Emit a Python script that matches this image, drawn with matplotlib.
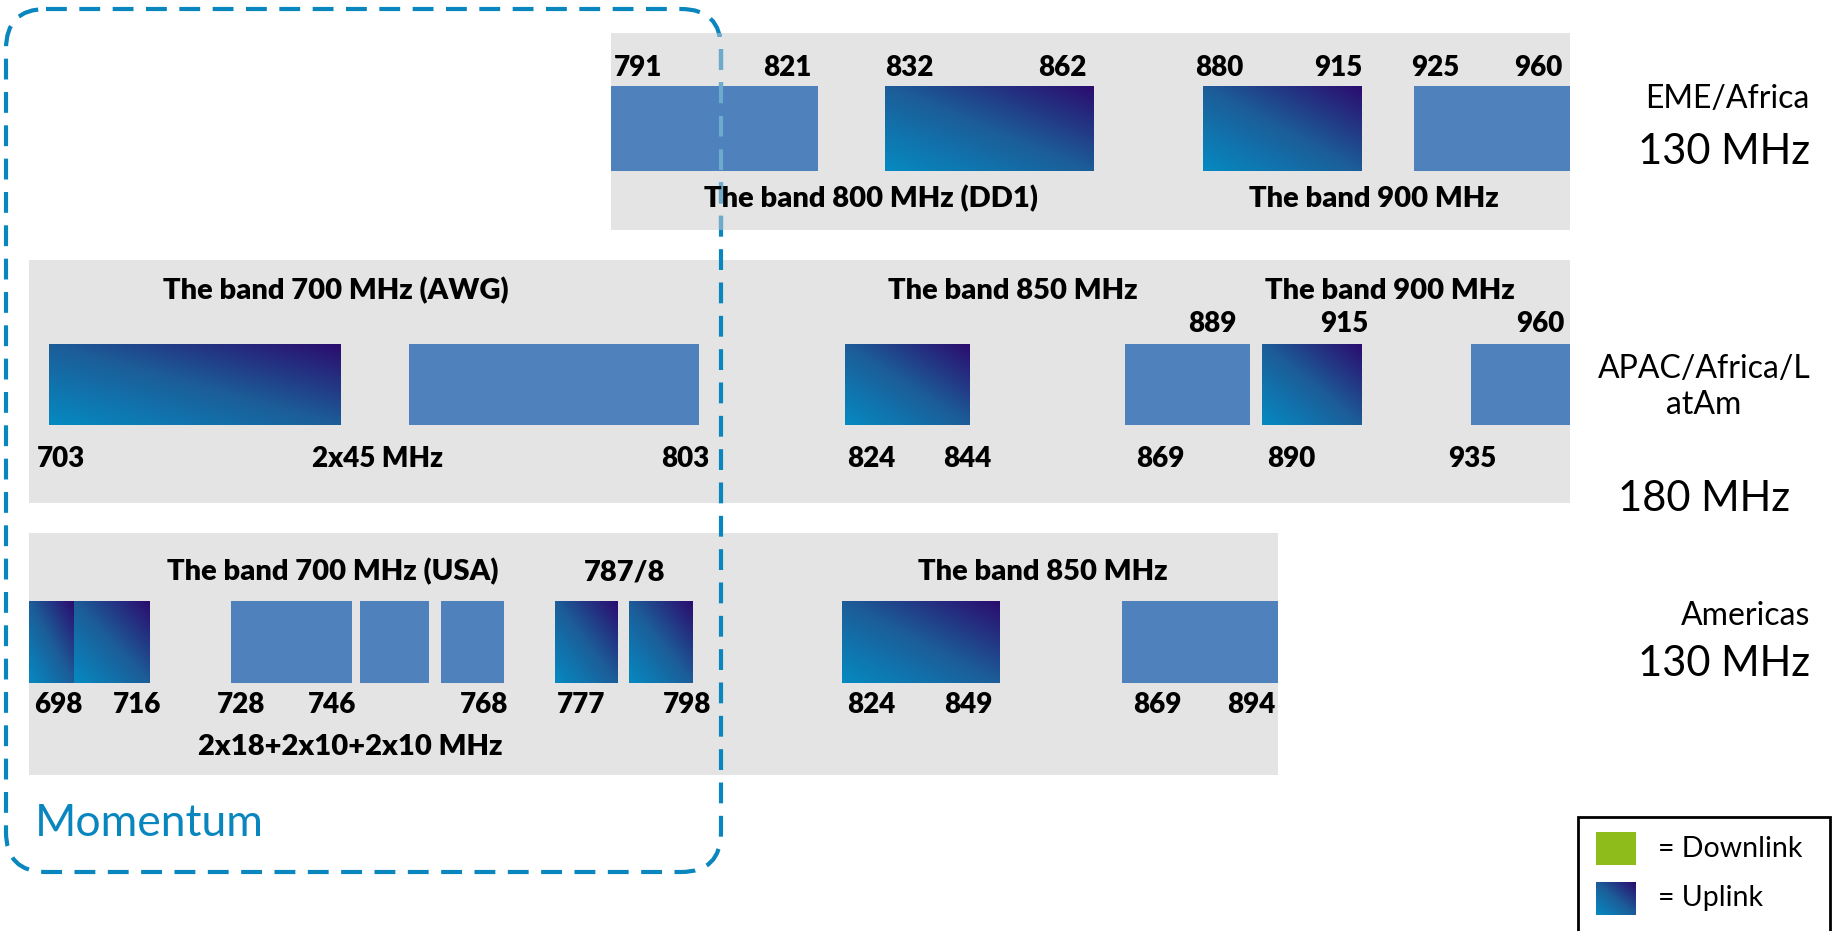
import numpy as np
import matplotlib.pyplot as plt
from matplotlib.colors import LinearSegmentedColormap
from matplotlib.patches import Rectangle, FancyBboxPatch

# Canvas is laid out in pixel units (x right, y down).
W, H = 1833, 931

GRAY = "#e4e4e4"
FLAT = "#4f81bd"
GREEN = "#8ebc1a"
TEAL = "#0a86be"
up_cmap = LinearSegmentedColormap.from_list("uplink", ["#0689c1", "#1c5d98", "#2b0d6f"])

# ---- EME/Africa row ----
eme_box = (611, 33, 1570, 230)
eme_bar_y = (86, 171)
eme_bars = [(611, 818, "flat"), (885, 1094, "up"), (1203, 1362, "up"), (1414, 1570, "flat")]
eme_top_labels = ["791", "821", "832", "862", "880", "915", "925", "960"]
eme_top_x = [614, 812, 885, 1087, 1195, 1362, 1411, 1562]
eme_top_ha = ["left", "right", "left", "right", "left", "right", "left", "right"]
eme_bands = ["The band 800 MHz (DD1)", "The band 900 MHz"]
eme_bands_x = [871, 1374]

# ---- APAC/Africa/LatAm row ----
apac_box = (29, 260, 1570, 503)
apac_bar_y = (344, 425)
apac_bars = [(49, 341, "up"), (409, 699, "flat"), (845, 970, "up"),
             (1125, 1250, "flat"), (1262, 1362, "up"), (1471, 1570, "flat")]
apac_bands = ["The band 700 MHz (AWG)", "The band 850 MHz", "The band 900 MHz"]
apac_bands_x = [336, 1013, 1390]
apac_top_labels = ["889", "915", "960"]
apac_top_x = [1212, 1344, 1540]
apac_bot_labels = ["703", "2x45 MHz", "803", "824", "844", "869", "890", "935"]
apac_bot_x = [61, 378, 685, 871, 967, 1160, 1291, 1472]

# ---- Americas row ----
am_box = (29, 533, 1278, 775)
am_bar_y = (601, 683)
am_bars = [(29, 74, "up"), (74, 150, "up"), (231, 352, "flat"), (360, 429, "flat"),
           (441, 504, "flat"), (555, 618, "up"), (629, 693, "up"),
           (842, 1000, "up"), (1122, 1278, "flat")]
am_bands = ["The band 700 MHz (USA)", "787/8", "The band 850 MHz"]
am_bands_x = [333, 625, 1043]
am_bot_labels = ["698", "716", "728", "746", "768", "777", "798", "824", "849", "869", "894"]
am_bot_x = [58, 137, 241, 332, 484, 581, 687, 871, 968, 1157, 1251]

regions = ["EME/Africa", "APAC/Africa/L\natAm", "Americas"]
totals = ["130 MHz", "180 MHz", "130 MHz"]

NUM = dict(family="Lato", fontweight="heavy", fontsize=20, color="black")
BAND = dict(family="Lato", fontweight="heavy", fontsize=21, color="black")
fig = plt.figure(figsize=(W / 100, H / 100), dpi=100)
ax = fig.add_axes([0, 0, 1, 1])


def gray_box(b):
    ax.add_patch(Rectangle((b[0], b[1]), b[2] - b[0], b[3] - b[1], fc=GRAY, ec="none", zorder=1))


def bar(x0, x1, y0, y1, kind):
    if kind == "flat":
        ax.add_patch(Rectangle((x0, y0), x1 - x0, y1 - y0, fc=FLAT, ec="none", zorder=2))
    else:
        # diagonal gradient: teal at bottom-left, dark purple at top-right
        n = 60
        jj, ii = np.meshgrid(np.linspace(0, 1, n), np.linspace(0, 1, n))
        z = (jj + (1 - ii)) / 2
        ax.imshow(z, cmap=up_cmap, extent=(x0, x1, y1, y0), origin="upper",
                  aspect="auto", interpolation="bilinear", zorder=2, vmin=0, vmax=1)


# rows
gray_box(eme_box)
for x0, x1, k in eme_bars:
    bar(x0, x1, eme_bar_y[0], eme_bar_y[1], k)
for lab, x, ha in zip(eme_top_labels, eme_top_x, eme_top_ha):
    ax.text(x, 68, lab, ha=ha, va="center", zorder=4, **NUM)
for lab, x in zip(eme_bands, eme_bands_x):
    ax.text(x, 199, lab, ha="center", va="center", zorder=4, **BAND)

gray_box(apac_box)
for x0, x1, k in apac_bars:
    bar(x0, x1, apac_bar_y[0], apac_bar_y[1], k)
for lab, x in zip(apac_bands, apac_bands_x):
    ax.text(x, 291, lab, ha="center", va="center", zorder=4, **BAND)
for lab, x in zip(apac_top_labels, apac_top_x):
    ax.text(x, 324, lab, ha="center", va="center", zorder=4, **NUM)
for lab, x in zip(apac_bot_labels, apac_bot_x):
    ax.text(x, 459, lab, ha="center", va="center", zorder=4, **NUM)

gray_box(am_box)
for x0, x1, k in am_bars:
    bar(x0, x1, am_bar_y[0], am_bar_y[1], k)
for lab, x in zip(am_bands, am_bands_x):
    ax.text(x, 572, lab, ha="center", va="center", zorder=4, **BAND)
for lab, x in zip(am_bot_labels, am_bot_x):
    ax.text(x, 705, lab, ha="center", va="center", zorder=4, **NUM)
ax.text(350, 747, "2x18+2x10+2x10 MHz", ha="center", va="center", zorder=4, **BAND)

# region names on the right
ax.text(1810, 99, regions[0], ha="right", va="center", family="Lato", fontsize=23)
ax.text(1810, 152, totals[0], ha="right", va="center", family="Lato", fontsize=30)
ax.text(1704, 387, regions[1], ha="center", va="center", family="Lato", fontsize=23,
        linespacing=1.25)
ax.text(1704, 499, totals[1], ha="center", va="center", family="Lato", fontsize=30)
ax.text(1810, 616, regions[2], ha="right", va="center", family="Lato", fontsize=23)
ax.text(1810, 664, totals[2], ha="right", va="center", family="Lato", fontsize=30)

# dashed "Momentum" outline; lighter where it crosses the EME block
mom_kw = dict(boxstyle="round,pad=0,rounding_size=40", fc="none", lw=3,
              linestyle=(0, (5, 3)))
ax.add_patch(FancyBboxPatch((6, 9), 715, 863, ec=TEAL, zorder=3, **mom_kw))
light = FancyBboxPatch((6, 9), 715, 863, ec="#6eaacb", zorder=3.5, **mom_kw)
ax.add_patch(light)
clip = Rectangle((eme_box[0], eme_box[1]), eme_box[2] - eme_box[0], eme_box[3] - eme_box[1],
                 transform=ax.transData)
light.set_clip_path(clip)
ax.text(35, 823, "Momentum", ha="left", va="center", family="Lato", fontsize=32, color=TEAL)

# legend
ax.add_patch(Rectangle((1578, 817), 252, 130, fc="white", ec="black", lw=2, zorder=5))
ax.add_patch(Rectangle((1596, 832), 40, 33, fc=GREEN, ec="none", zorder=6))
n = 40
jj, ii = np.meshgrid(np.linspace(0, 1, n), np.linspace(0, 1, n))
ax.imshow((jj + (1 - ii)) / 2, cmap=up_cmap, extent=(1596, 1636, 915, 882), origin="upper",
          aspect="auto", interpolation="bilinear", zorder=6, vmin=0, vmax=1)
ax.text(1658, 849, "= Downlink", ha="left", va="center", family="Lato", fontsize=20.5, zorder=6)
ax.text(1658, 898, "= Uplink", ha="left", va="center", family="Lato", fontsize=20.5, zorder=6)

ax.set_xlim(0, W)
ax.set_ylim(H, 0)
ax.axis("off")
fig.savefig("out.png", dpi=100)
